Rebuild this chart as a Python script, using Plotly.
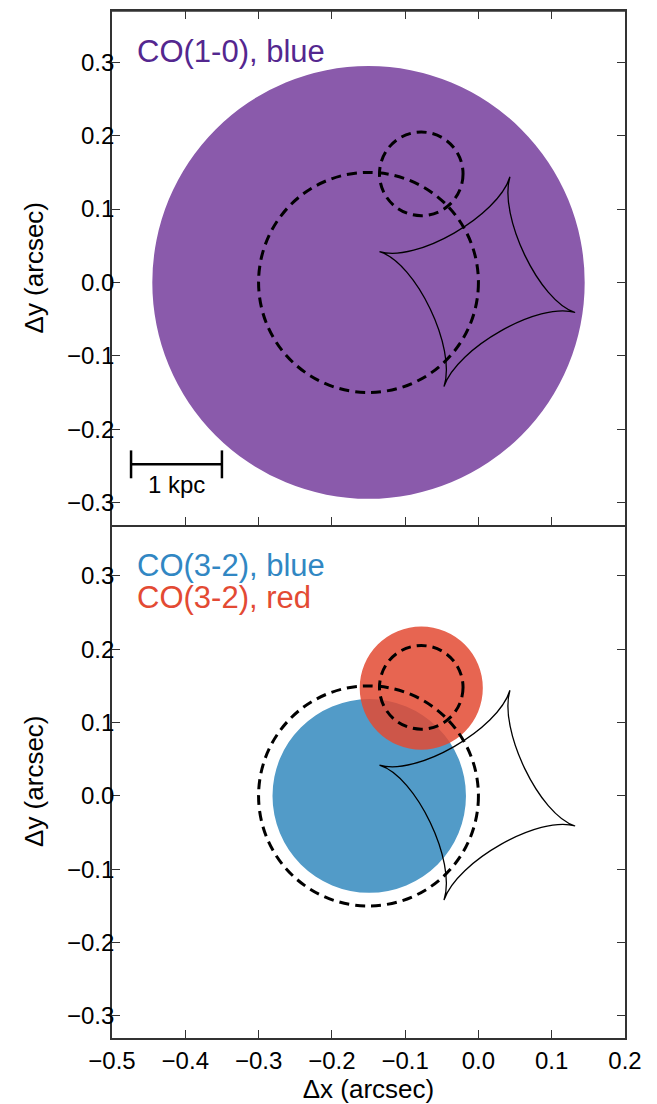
import plotly.graph_objects as go

# ---------------- data ----------------
x_range = [-0.5, 0.2]
y_range = [-0.33, 0.37]
x_ticks = [-0.5, -0.4, -0.3, -0.2, -0.1, 0.0, 0.1, 0.2]
y_ticks = [-0.3, -0.2, -0.1, 0.0, 0.1, 0.2, 0.3]

# filled source extents (arcsec)
co10_blue_center = [-0.150, 0.000]
co10_blue_radius = 0.295
co32_blue_center = [-0.149, 0.000]
co32_blue_radius = 0.132
co32_red_center = [-0.078, 0.147]
co32_red_radius = 0.084

# dashed circles (shown in both panels)
dashed_center_x = [-0.150, -0.078]
dashed_center_y = [0.000, 0.148]
dashed_radius = [0.150, 0.057]

# caustic cusps (left, top, right, bottom)
caustic_cusp_x = [-0.135, 0.043, 0.132, -0.047]
caustic_cusp_y = [0.042, 0.144, -0.041, -0.142]
caustic_center = [0.0, 0.0]

# scale bar: 1 kpc
scale_bar_x0 = -0.474
scale_bar_length = 0.124
scale_bar_y = -0.248
scale_bar_label = "1 kpc"

labels_top = ["CO(1-0), blue"]
labels_bottom = ["CO(3-2), blue", "CO(3-2), red"]

# ---------------- styles ----------------
FONT = "Liberation Sans, Arial, Helvetica, sans-serif"
PURPLE_FILL = "rgb(138,90,171)"
BLUE_FILL = "rgb(82,155,200)"
RED_FILL = "rgba(227,74,51,0.85)"
PURPLE_TXT = "rgb(84,39,143)"
BLUE_TXT = "rgb(49,135,195)"
RED_TXT = "rgb(227,74,51)"
PINCH = 0.37

fig = go.Figure()
shapes = []
annotations = []


def circle(xref, yref, c, r, **kw):
    return dict(type="circle", xref=xref, yref=yref,
                x0=c[0] - r, x1=c[0] + r, y0=c[1] - r, y1=c[1] + r, **kw)


def caustic_path():
    n = len(caustic_cusp_x)
    pts = list(zip(caustic_cusp_x, caustic_cusp_y))
    cx, cy = caustic_center
    s = f"M {pts[0][0]},{pts[0][1]}"
    for i in range(n):
        p0 = pts[i]
        p1 = pts[(i + 1) % n]
        c1 = (p0[0] + PINCH * (cx - p0[0]), p0[1] + PINCH * (cy - p0[1]))
        c2 = (p1[0] + PINCH * (cx - p1[0]), p1[1] + PINCH * (cy - p1[1]))
        s += f" C {c1[0]},{c1[1]} {c2[0]},{c2[1]} {p1[0]},{p1[1]}"
    return s + " Z"


# top panel
shapes.append(circle("x", "y", co10_blue_center, co10_blue_radius,
                     fillcolor=PURPLE_FILL, line=dict(width=0), layer="below"))
# bottom panel
shapes.append(circle("x2", "y2", co32_blue_center, co32_blue_radius,
                     fillcolor=BLUE_FILL, line=dict(width=0), layer="below"))
shapes.append(circle("x2", "y2", co32_red_center, co32_red_radius,
                     fillcolor=RED_FILL, line=dict(width=0), layer="below"))

for xr, yr in (("x", "y"), ("x2", "y2")):
    for cx, cy, r in zip(dashed_center_x, dashed_center_y, dashed_radius):
        shapes.append(circle(xr, yr, [cx, cy], r,
                             line=dict(color="black", width=3, dash="10px,6px")))
    shapes.append(dict(type="path", xref=xr, yref=yr, path=caustic_path(),
                       line=dict(color="black", width=1.3)))

# top frame edge of the upper panel
shapes.append(dict(type="line", xref="x domain", yref="y domain", x0=0, x1=1,
                   y0=1, y1=1, line=dict(color="#333", width=1.6)))

# scale bar
x1 = scale_bar_x0 + scale_bar_length
shapes.append(dict(type="line", xref="x", yref="y", x0=scale_bar_x0, x1=x1,
                   y0=scale_bar_y, y1=scale_bar_y, line=dict(color="black", width=2.5)))
for xe in (scale_bar_x0, x1):
    shapes.append(dict(type="line", xref="x", yref="y", x0=xe, x1=xe,
                       y0=scale_bar_y + 0.019, y1=scale_bar_y - 0.019,
                       line=dict(color="black", width=2.5)))
annotations.append(dict(x=scale_bar_x0 + scale_bar_length / 2, y=scale_bar_y - 0.006,
                        xref="x", yref="y", text=scale_bar_label, showarrow=False,
                        xanchor="center", yanchor="top",
                        font=dict(family=FONT, size=24, color="black")))

# labels
annotations.append(dict(x=-0.468, y=0.315, xref="x", yref="y", text=labels_top[0],
                        showarrow=False, xanchor="left", yanchor="middle",
                        font=dict(family=FONT, size=31, color=PURPLE_TXT)))
annotations.append(dict(x=-0.468, y=0.314, xref="x2", yref="y2", text=labels_bottom[0],
                        showarrow=False, xanchor="left", yanchor="middle",
                        font=dict(family=FONT, size=31, color=BLUE_TXT)))
annotations.append(dict(x=-0.468, y=0.271, xref="x2", yref="y2", text=labels_bottom[1],
                        showarrow=False, xanchor="left", yanchor="middle",
                        font=dict(family=FONT, size=31, color=RED_TXT)))

axis_common = dict(showgrid=False, zeroline=False, showline=True, linecolor="#333",
                   linewidth=1.6, ticks="inside", ticklen=8, tickwidth=1,
                   tickcolor="#333", automargin=False,
                   tickfont=dict(family=FONT, size=24, color="black"))
title_font = dict(family=FONT, size=26, color="black")

# the page body adds an 8 px offset, so the figure is 8 px smaller than the window
fig.update_layout(
    width=649, height=1096,
    margin=dict(l=104, r=32, t=3, b=66),
    paper_bgcolor="white", plot_bgcolor="white",
    showlegend=False,
    shapes=shapes, annotations=annotations,
    xaxis=dict(domain=[0, 1], anchor="y", range=x_range, tickvals=x_ticks,
               showticklabels=False, mirror="ticks", **axis_common),
    yaxis=dict(domain=[0.5, 1], anchor="x", range=y_range, tickvals=y_ticks,
               tickformat=".1f", mirror="ticks", ticklabelstandoff=-9,
               title=dict(text="Δy (arcsec)", font=title_font, standoff=16),
               **axis_common),
    xaxis2=dict(domain=[0, 1], anchor="y2", range=x_range, tickvals=x_ticks,
                tickformat=".1f", mirror=False,
                title=dict(text="Δx (arcsec)", font=title_font, standoff=4),
                **axis_common),
    yaxis2=dict(domain=[0, 0.5], anchor="x2", range=y_range, tickvals=y_ticks,
                tickformat=".1f", mirror="ticks", ticklabelstandoff=-9,
                title=dict(text="Δy (arcsec)", font=title_font, standoff=16),
                **axis_common),
)

fig.write_html("out.html")
